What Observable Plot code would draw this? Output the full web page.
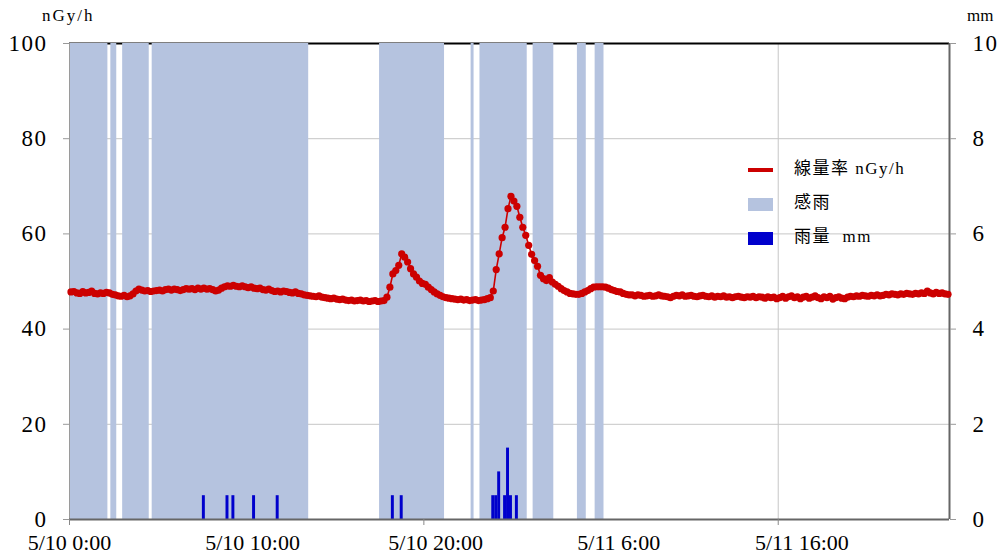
<!DOCTYPE html>
<html>
<head>
<meta charset="utf-8">
<script src="https://cdn.jsdelivr.net/npm/d3@7"></script>
<script src="https://cdn.jsdelivr.net/npm/@observablehq/plot@0.6"></script>
<style>
  html, body { margin: 0; padding: 0; background: #fff; }
  #wrap { position: relative; width: 1003px; height: 559px; font-family: 'Liberation Serif', 'Noto Sans CJK JP', serif; color: #000; }
  .unit { position: absolute; font-size: 17px; letter-spacing: 2px; }
  .leg { position: absolute; left: 0; top: 0; }
  .legrow { position: absolute; left: 794px; font-size: 17px; letter-spacing: 1.5px; white-space: pre; line-height: 20px; }
  .legsw { position: absolute; }
</style>
</head>
<body>
<div id="wrap"></div>
<script>
// ---- data (10-minute samples, category index) ----
const doseRate = [
  47.8, 47.9, 47.6, 47.5, 47.9, 47.6, 47.7, 48.0, 47.5, 47.4,
  47.6, 47.5, 47.7, 47.6, 47.3, 47.2, 47.0, 46.9, 47.1, 46.8,
  47.0, 47.4, 48.0, 48.4, 48.2, 48.0, 48.1, 47.9, 48.0, 48.1,
  48.2, 48.0, 48.3, 48.4, 48.2, 48.4, 48.3, 48.1, 48.3, 48.5,
  48.4, 48.5, 48.3, 48.6, 48.4, 48.6, 48.4, 48.5, 48.3, 48.0,
  48.2, 48.6, 48.9, 49.1, 49.0, 49.2, 49.0, 48.9, 49.1, 48.9,
  48.7, 48.9, 48.6, 48.5, 48.6, 48.3, 48.2, 48.4, 48.1, 47.9,
  48.0, 47.8, 48.0, 47.9, 47.7, 47.6, 47.8, 47.5, 47.4, 47.2,
  47.1, 47.0, 46.9, 46.8, 47.0, 46.7, 46.6, 46.5, 46.4, 46.5,
  46.3, 46.2, 46.3, 46.1, 46.0, 46.1, 45.9, 46.0, 46.1, 45.9,
  46.0, 45.8, 45.9, 46.0, 45.8, 45.9, 46.0, 46.7, 48.8, 51.6,
  52.3, 53.4, 55.8, 55.1, 54.1, 52.7, 51.6, 50.9, 50.1, 49.6,
  49.4, 48.8, 48.3, 47.8, 47.4, 47.1, 46.8, 46.6, 46.5, 46.4,
  46.3, 46.2, 46.3, 46.1, 46.2, 46.0, 46.1, 46.2, 46.0, 46.1,
  46.2, 46.4, 46.6, 48.0, 52.5, 55.8, 59.2, 61.4, 65.3, 67.9,
  66.9, 65.8, 63.5, 61.4, 59.7, 57.6, 55.7, 54.4, 53.2, 51.3,
  50.6, 50.2, 50.8, 49.9, 49.4, 49.0, 48.5, 48.1, 47.8, 47.5,
  47.4, 47.3, 47.3, 47.5, 47.8, 48.1, 48.5, 48.8, 48.9, 48.9,
  48.9, 48.8, 48.6, 48.3, 48.1, 47.9, 47.8, 47.5, 47.3, 47.2,
  47.2, 47.0, 47.2, 47.1, 46.9, 47.0, 47.1, 46.9, 47.0, 47.2,
  47.0, 46.9, 46.8, 46.6, 46.9, 47.1, 47.0, 47.2, 46.9, 47.0,
  47.1, 46.9, 46.8, 47.0, 47.1, 46.9, 46.8, 47.0, 46.7, 46.9,
  46.8, 47.0, 46.7, 46.8, 46.6, 46.8, 46.9, 46.7, 46.6, 46.8,
  46.7, 46.9, 46.6, 46.8, 46.7, 46.5, 46.8, 46.6, 46.7, 46.4,
  46.6, 46.9, 46.5, 46.8, 47.0, 46.6, 46.8, 46.4, 46.7, 46.9,
  46.5, 46.7, 47.0, 46.6, 46.4, 46.8, 46.6, 46.9, 46.3, 46.6,
  46.8, 46.5, 46.4, 46.7, 46.9, 46.8, 47.0, 46.9, 47.1, 47.0,
  46.9, 47.1, 47.0, 47.2, 47.0, 47.1, 47.3, 47.2, 47.4, 47.3,
  47.2, 47.4, 47.3, 47.5, 47.4, 47.3, 47.5, 47.4, 47.6, 47.5,
  48.0, 47.6, 47.4, 47.7, 47.5, 47.6, 47.4, 47.3
];
// 感雨 (rain sensed): runs of category indices [first, last]
const senseStart = [0, 14, 18, 28, 105, 136, 139, 157, 172, 178];
const senseEnd   = [12, 15, 26, 80, 126, 136, 154, 163, 174, 180];
// 雨量 mm
const rainIdx = [45, 53, 55, 62, 70, 109, 112, 143, 144, 145, 147, 148, 149, 151];
const rainMm  = [0.5, 0.5, 0.5, 0.5, 0.5, 0.5, 0.5, 0.5, 0.5, 1.0, 0.5, 1.5, 0.5, 0.5];
// axis
const xLabelIdx = [0, 62, 124, 186, 248];
const xLabels = ["5/10 0:00", "5/10 10:00", "5/10 20:00", "5/11 6:00", "5/11 16:00"];
const xTickIdx = [0, 120, 240];
const yTicks = [0, 20, 40, 60, 80, 100];
const yGrid = [20, 40, 60, 80];

const N = doseRate.length;
const dose = doseRate.map((v, i) => ({i, v}));
const sense = senseStart.map((s, k) => ({s, e: senseEnd[k]}));
const rain = rainIdx.map((i, k) => ({i, mm: rainMm[k]}));

const RED = "#cc0000", LIGHT = "#b5c3df", BLUE = "#0000cc";
const FONT = "'Liberation Serif', 'Noto Sans CJK JP', serif";

const chart = Plot.plot({
  width: 1003,
  height: 559,
  marginLeft: 69,
  marginRight: 54,
  marginTop: 43,
  marginBottom: 40,
  style: {fontFamily: FONT, background: "white", color: "black", overflow: "visible"},
  x: {domain: [0, N]},
  y: {domain: [0, 100]},
  marks: [
    Plot.gridY(yGrid, {stroke: "#c6c6c6", strokeOpacity: 1}),
    Plot.gridX(xTickIdx.slice(1), {stroke: "#c6c6c6", strokeOpacity: 1}),
    Plot.ruleY([100], {stroke: "black", strokeWidth: 2}),
    Plot.rectY(sense, {x1: d => d.s, x2: d => d.e + 1, y1: 0, y2: 100, fill: LIGHT}),
    Plot.rectY(rain, {x1: d => d.i, x2: d => d.i + 1, y1: 0, y2: d => d.mm * 10, fill: BLUE}),
    Plot.ruleX([0], {stroke: "#9a9a9a", strokeWidth: 1}),
    Plot.ruleX([N], {stroke: "#666", strokeWidth: 2}),
    Plot.ruleY([0], {stroke: "#666", strokeWidth: 2}),
    Plot.line(dose, {x: d => d.i + 0.5, y: "v", stroke: RED, strokeWidth: 1.6}),
    Plot.dot(dose, {x: d => d.i + 0.5, y: "v", r: 3.6, fill: RED, stroke: "none"}),
    Plot.axisY({anchor: "left", ticks: yTicks, tickSize: 6, tickPadding: 16, stroke: "#999", fill: "black", fontSize: 23, label: null}),
    Plot.axisY({anchor: "right", ticks: yTicks, tickFormat: d => String(d / 10), tickSize: 6, tickPadding: 17, stroke: "#999", fill: "black", fontSize: 23, label: null}),
    Plot.axisX({anchor: "bottom", ticks: xTickIdx, tickSize: 6, tickFormat: () => "", stroke: "#888", label: null}),
    Plot.axisX({anchor: "bottom", ticks: xLabelIdx, tickSize: 0, tickPadding: 15, tickFormat: d => xLabels[xLabelIdx.indexOf(d)], fill: "black", fontSize: 22, label: null})
  ]
});

const wrap = document.getElementById("wrap");
wrap.appendChild(chart);
d3.select(chart).selectAll('g[aria-label="y-axis tick label"] text').style("letter-spacing", "1.5px");

function addDiv(cls, css, text) {
  const d = document.createElement("div");
  d.className = cls;
  Object.assign(d.style, css);
  if (text != null) d.textContent = text;
  wrap.appendChild(d);
  return d;
}
addDiv("unit", {left: "42px", top: "6px"}, "nGy/h");
addDiv("unit", {left: "967px", top: "6px", letterSpacing: "0px"}, "mm");

// legend
const legendItems = [
  {label: "線量率 nGy/h", kind: "line", color: RED, y: 170},
  {label: "感雨", kind: "box", color: LIGHT, y: 204},
  {label: "雨量  mm", kind: "box", color: BLUE, y: 238}
];
legendItems.forEach(it => {
  if (it.kind === "line") {
    addDiv("legsw", {left: "748px", top: (it.y - 2) + "px", width: "25px", height: "4px", background: it.color});
  } else {
    addDiv("legsw", {left: "748px", top: (it.y - 6) + "px", width: "25px", height: "13px", background: it.color});
  }
  addDiv("legrow", {top: (it.y - 11) + "px"}, it.label);
});
</script>
</body>
</html>
